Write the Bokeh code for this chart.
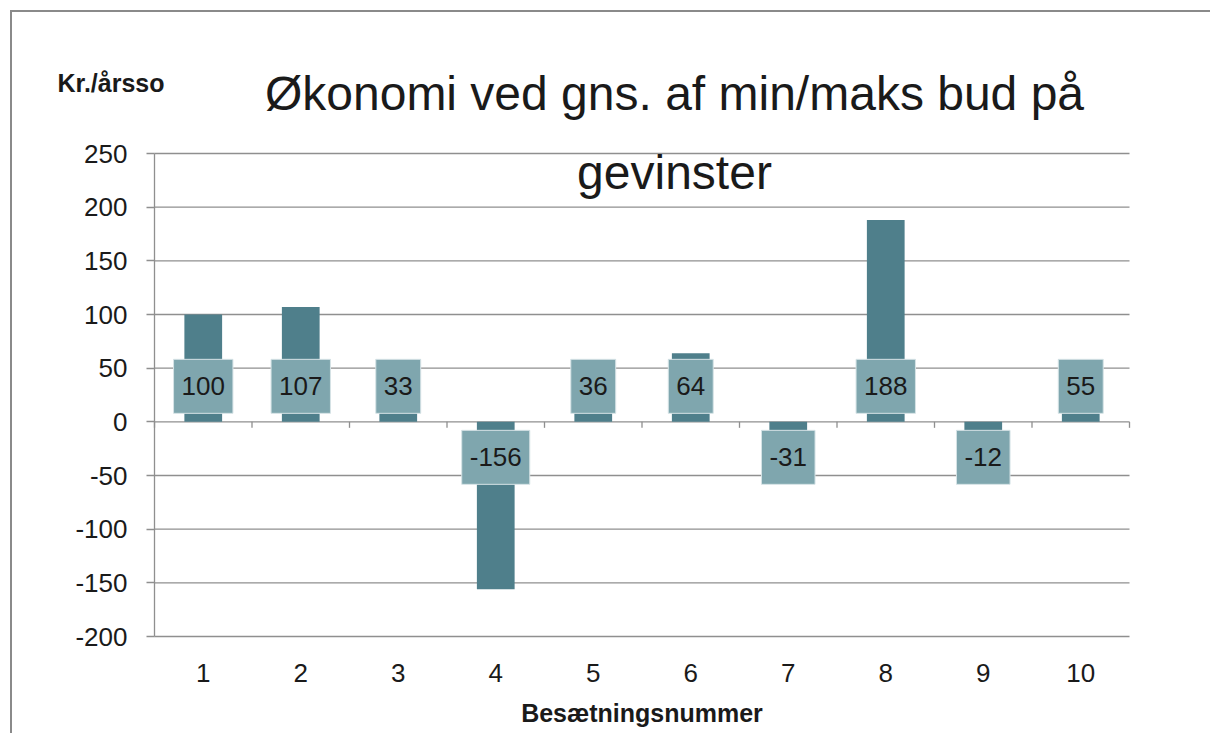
import math
from bokeh.plotting import figure
from bokeh.models import (Range1d, FixedTicker, Label, LinearAxis,
                          ColumnDataSource, InlineStyleSheet)
from bokeh.core.properties import value
from bokeh.embed import file_html
from bokeh.resources import INLINE

# ---- data ----
categories = [1, 2, 3, 4, 5, 6, 7, 8, 9, 10]
values = [100, 107, 33, -156, 36, 64, -31, 188, -12, 55]
y_ticks = [-200, -150, -100, -50, 0, 50, 100, 150, 200, 250]
title_lines = ["Økonomi ved gns. af min/maks bud på", "gevinster"]
y_title = "Kr./årsso"
x_title = "Besætningsnummer"

FONT = "Liberation Sans"
BAR = "#4f7f8b"
BOX = "#7fa6ae"
GRID = "#8f8f8f"
TXT = "#1a1a1a"

# ---- layout (pixels); the frame covers the whole canvas ----
W, H = 1210, 733
PL, PR, PT, PB = 154, 1129, 153, 636          # plot-area edges on the canvas
x0, x1 = categories[0] - 0.5, categories[-1] + 0.5
y0, y1 = y_ticks[0], y_ticks[-1]
px_x = (PR - PL) / (x1 - x0)
px_y = (PB - PT) / (y1 - y0)

src = ColumnDataSource(dict(
    x=categories,
    v=values,
    label=[str(v) for v in values],
    yoff=[-35.5 if v >= 0 else 35.5 for v in values],
))
bounds_src = ColumnDataSource(dict(
    x=[c - 0.5 for c in categories] + [categories[-1] + 0.5],
    y=[0] * (len(categories) + 1),
))
grid_src = ColumnDataSource(dict(
    y=y_ticks, xs=[x0] * len(y_ticks), xe=[x1] * len(y_ticks),
))

p = figure(width=W, height=H,
           x_range=Range1d(x0 - PL / px_x, x1 + (W - PR) / px_x),
           y_range=Range1d(y0 - (H - PB) / px_y, y1 + PT / px_y),
           output_backend="svg", toolbar_location=None,
           x_axis_location=None, y_axis_location=None,
           min_border=0)
p.title.visible = False
p.outline_line_color = None
p.background_fill_color = "white"
p.border_fill_color = "white"
p.xgrid.visible = False
p.ygrid.visible = False

# horizontal grid lines (plot area only)
p.segment(x0="xs", x1="xe", y0="y", y1="y", source=grid_src,
          line_color=GRID, line_width=1.3)

# y axis at the left edge of the plot area
ya = LinearAxis(fixed_location=x0, bounds=(y0, y1),
                ticker=FixedTicker(ticks=y_ticks))
ya.major_label_overrides = {t: str(t) for t in y_ticks}
ya.axis_line_color = GRID
ya.axis_line_width = 1.3
ya.major_tick_line_color = GRID
ya.major_tick_line_width = 1.3
ya.major_tick_out = 8
ya.major_tick_in = 0
ya.minor_tick_line_color = None
ya.major_label_standoff = 19
ya.major_label_text_font = FONT
ya.major_label_text_font_size = "26px"
ya.major_label_text_color = TXT
p.add_layout(ya, "left")

# category axis below the plot area (labels only)
xa = LinearAxis(fixed_location=y0, bounds=(x0, x1),
                ticker=FixedTicker(ticks=categories))
xa.axis_line_color = None
xa.major_tick_line_color = None
xa.minor_tick_line_color = None
xa.major_tick_in = 0
xa.major_tick_out = 0
xa.major_label_standoff = 27
xa.major_label_text_font = FONT
xa.major_label_text_font_size = "26px"
xa.major_label_text_color = TXT
xa.axis_label = x_title
xa.axis_label_text_font = FONT
xa.axis_label_text_font_size = "25px"
xa.axis_label_text_font_style = "bold"
xa.axis_label_text_color = TXT
xa.axis_label_standoff = 14
p.add_layout(xa, "below")

# bars
p.vbar(x="x", top="v", bottom=0, width=0.387, source=src,
       fill_color=BAR, line_color=None)

# zero line tick marks between categories
p.ray(x="x", y="y", length=6, length_units="screen", angle=-math.pi / 2,
      source=bounds_src, line_color=GRID, line_width=1.3)

# data labels
p.text(x="x", y=0, text="label", y_offset="yoff", source=src,
       text_align="center", text_baseline="middle",
       text_font=value(FONT), text_font_size="26px", text_color=TXT,
       background_fill_color=BOX, border_line_color="#d6e3e6",
       border_line_width=1,
       padding=dict(left=8, right=8, top=18, bottom=18))

# title lines and unit label (screen units, measured from the canvas bottom)
p.add_layout(Label(x=674, y=H - 93, x_units="screen", y_units="screen",
                   text=title_lines[0], text_align="center", text_baseline="middle",
                   text_font=FONT, text_font_size="48px", text_color=TXT))
p.add_layout(Label(x=674, y=H - 172, x_units="screen", y_units="screen",
                   text=title_lines[1], text_align="center", text_baseline="middle",
                   text_font=FONT, text_font_size="48px", text_color=TXT))
p.add_layout(Label(x=57, y=H - 82, x_units="screen", y_units="screen",
                   text=y_title, text_align="left", text_baseline="middle",
                   text_font=FONT, text_font_size="25px", text_font_style="bold",
                   text_color=TXT))

p.stylesheets = [InlineStyleSheet(css="""
:host { position: relative; }
:host::after { content: ""; position: absolute; left: 10px; top: 10px; right: 0; bottom: 0;
  border-left: 2px solid #8a8a8a; border-top: 2px solid #8a8a8a; pointer-events: none; }
""")]

open("out.html", "w").write(file_html(p, INLINE))
